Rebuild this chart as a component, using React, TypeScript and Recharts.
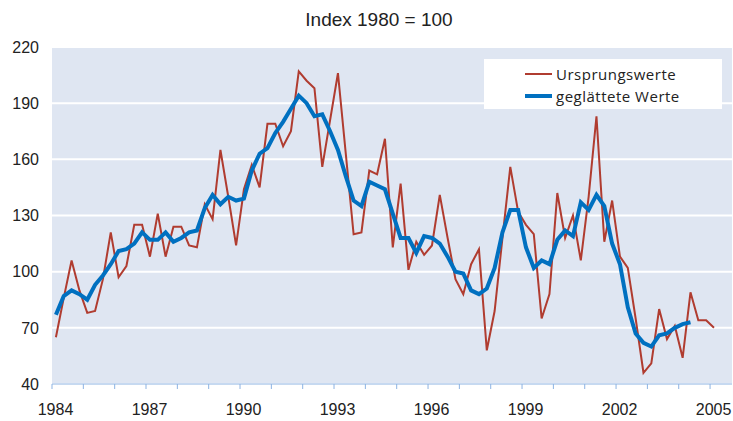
import React from 'react';
import { LineChart, Line, XAxis, YAxis, CartesianGrid } from 'recharts';

// quarterly observations, 1984 Q1 .. 2005 Q1
const ursprungswerte = [
  65, 86, 106, 90, 78, 79, 96, 121, 97, 103, 125, 125, 108, 131, 108, 124,
  124, 114, 113, 136, 128, 165, 140, 114, 144, 157, 145, 179, 179, 167, 175, 207,
  202, 198, 156, 181, 206, 163, 120, 121, 154, 152, 171, 113, 147, 101, 116, 109,
  114, 141, 118, 96, 88, 104, 112, 58, 79, 118, 156, 132, 125, 120, 75, 88,
  142, 118, 130, 106, 140, 183, 116, 138, 108, 102, 75, 46, 51, 80, 64, 71,
  54, 89, 74, 74, 70,
];

// smoothed values, 1984 Q1 .. 2004 Q2
const geglaettet = [
  77, 87, 90, 88, 85, 93, 98, 104, 111, 112, 115, 121, 117, 117, 121, 116,
  118, 121, 122, 134, 141, 136, 140, 138, 139, 154, 163, 166, 174, 180, 187, 194,
  190, 183, 184, 175, 165, 151, 138, 135, 148, 146, 144, 131, 118, 118, 110, 119,
  118, 115, 108, 100, 99, 90, 88, 91, 102, 121, 133, 133, 113, 102, 106, 104,
  117, 122, 119, 137, 133, 141, 135, 115, 104, 81, 67, 62, 60, 66, 67, 70,
  72, 73,
];

const yearTicks = Array.from({ length: 22 }, (_, i) => 1984 + i);
const yTicks = [40, 70, 100, 130, 160, 190, 220];

const RED = '#b03c30';
const BLUE = '#0070c0';

const data = ursprungswerte.map((u, i) => ({
  t: 1984.125 + i * 0.25,
  u,
  g: i < geglaettet.length ? geglaettet[i] : undefined,
}));

const XTick = (props: any) => {
  const { x, y, payload } = props;
  const v = payload.value as number;
  if ((v - 1984) % 3 !== 0) return null;
  return (
    <text x={x + 3.5} y={y} dy="0.71em" textAnchor="middle" fontSize={16} fill="#222">
      {v}
    </text>
  );
};

const LegendBox = () => (
  <div
    style={{
      position: 'absolute',
      left: 484,
      top: 59,
      width: 238,
      height: 50,
      background: '#fff',
      fontFamily: '"Open Sans", sans-serif',
      fontSize: 15,
      letterSpacing: 0.5,
      color: '#222',
    }}
  >
    {[
      { label: 'Ursprungswerte', color: RED, w: 2, top: 4 },
      { label: 'geglättete Werte', color: BLUE, w: 4, top: 26 },
    ].map((r) => (
      <div key={r.label} style={{ position: 'absolute', left: 41, top: r.top, height: 22, display: 'flex', alignItems: 'center' }}>
        <div style={{ width: 27, height: r.w, background: r.color, marginRight: 4 }} />
        <span style={{ whiteSpace: 'nowrap' }}>{r.label}</span>
      </div>
    ))}
  </div>
);

export default function App() {
  return (
    <div style={{ position: 'absolute', left: 0, top: 0, width: 733, height: 421, overflow: 'hidden', background: '#fff', fontFamily: '"Liberation Sans", Arial, sans-serif' }}>
      <div style={{ position: 'absolute', left: 229, top: 10, width: 300, textAlign: 'center', fontSize: 19, lineHeight: '19px', color: '#222' }}>
        Index 1980 = 100
      </div>
      <LineChart width={733} height={421} data={data} margin={{ top: 47, right: 1, bottom: 0, left: 0 }}>
        <CartesianGrid vertical={false} stroke="#fff" strokeWidth={2} fill="#dfe6f2" />
        <XAxis
          dataKey="t"
          type="number"
          domain={[1984, 2005.7]}
          ticks={yearTicks}
          allowDataOverflow
          height={37}
          interval={0}
          stroke="#8db3e2"
          tickSize={5}
          tickMargin={15}
          tick={<XTick />}
        />
        <YAxis
          domain={[40, 220]}
          ticks={yTicks}
          width={52}
          axisLine={false}
          tickLine={false}
          tickSize={6}
          tickMargin={7}
          tick={{ fontSize: 16, fill: '#222' }}
        />
        <Line type="linear" dataKey="u" stroke={RED} strokeWidth={2} dot={false} isAnimationActive={false} />
        <Line type="linear" dataKey="g" stroke={BLUE} strokeWidth={4} dot={false} isAnimationActive={false} />
      </LineChart>
      <LegendBox />
    </div>
  );
}
